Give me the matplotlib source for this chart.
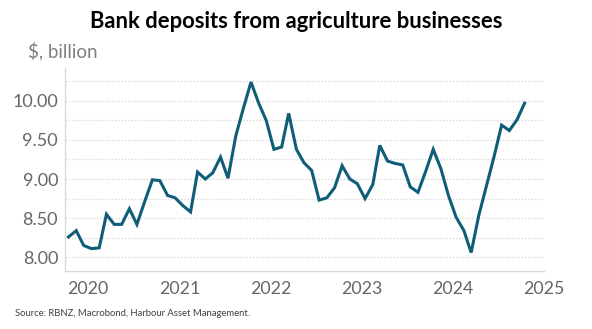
import numpy as np
import pandas as pd
import matplotlib
matplotlib.use("Agg")
import matplotlib.pyplot as plt
import matplotlib.dates as mdates
from matplotlib.ticker import MultipleLocator, FormatStrFormatter

# data: monthly bank deposits, $ billion (Oct 2019 - Oct 2024)
dates = pd.date_range("2019-10-01", periods=61, freq="MS") + pd.Timedelta(days=14)
deposits = [8.26, 8.34, 8.15, 8.11, 8.12, 8.55, 8.42, 8.42, 8.62, 8.42,
            8.71, 8.99, 8.98, 8.79, 8.76, 8.66, 8.58, 9.09, 9.00, 9.08,
            9.28, 9.01, 9.55, 9.91, 10.24, 9.97, 9.75, 9.38, 9.41, 9.84,
            9.38, 9.21, 9.11, 8.73, 8.76, 8.89, 9.17, 9.00, 8.94, 8.75,
            8.93, 9.43, 9.23, 9.20, 9.18, 8.90, 8.83, 9.10, 9.38, 9.13,
            8.79, 8.51, 8.34, 8.06, 8.54, 8.91, 9.29, 9.69, 9.62, 9.76,
            9.97]
years = [2020, 2021, 2022, 2023, 2024, 2025]

title = "Bank deposits from agriculture businesses"
unit = "$, billion"
source = "Source: RBNZ, Macrobond, Harbour Asset Management."

plt.rcParams['font.family'] = ['Lato', 'DejaVu Sans']

fig = plt.figure(figsize=(5.92, 3.29), dpi=100)
ax = fig.add_axes([0.1098, 0.1763, 0.8092, 0.617])

ax.plot(dates, deposits, color='#0f5d79', lw=2.2, solid_joinstyle='miter')

ax.set_ylim(7.824, 10.42)
ax.set_xlim(pd.Timestamp("2019-10-01"), pd.Timestamp("2025-01-01"))

ax.yaxis.set_major_locator(MultipleLocator(0.5))
ax.yaxis.set_minor_locator(MultipleLocator(0.25))
ax.yaxis.set_major_formatter(FormatStrFormatter('%.2f'))
ax.set_xticks([pd.Timestamp(f"{y}-01-01") for y in years])
ax.set_xticklabels([str(y) for y in years])

ax.grid(axis='y', which='both', color='#d4d4d4', ls=(0, (1, 1.5)), lw=0.9)
ax.set_axisbelow(True)
ax.tick_params(which='both', length=0)
ax.tick_params(axis='y', labelsize=13, labelcolor='#666666', pad=5)
ax.tick_params(axis='x', labelsize=12.8, labelcolor='#666666', pad=7)

for s in ['top', 'right']:
    ax.spines[s].set_visible(False)
for s in ['left', 'bottom']:
    ax.spines[s].set_color('#d9d9d9')
    ax.spines[s].set_linewidth(1)

fig.text(0.5, 0.935, title, ha='center', va='center', fontsize=15.8,
         fontweight='bold', color='black')
fig.text(0.047, 0.845, unit, ha='left', va='center', fontsize=13.5,
         color='#7f7f7f')
fig.text(0.025, 0.048, source, ha='left', va='center', fontsize=6.8,
         color='#404040')

fig.savefig("out.png", dpi=100)
